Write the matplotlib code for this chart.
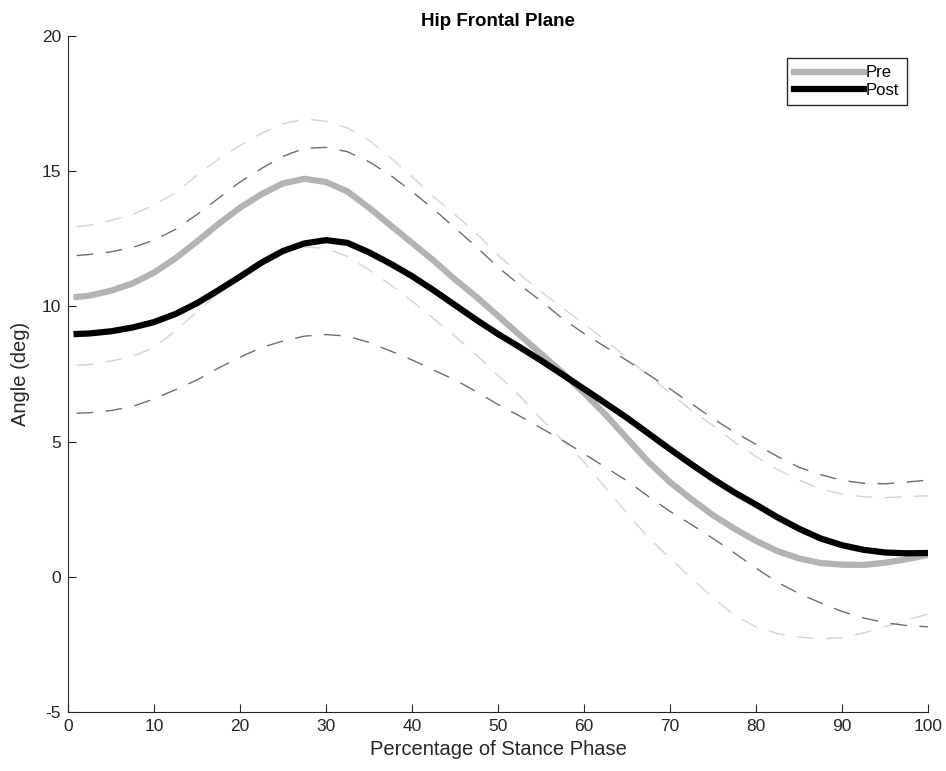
import numpy as np
import matplotlib
matplotlib.use("Agg")
import matplotlib.pyplot as plt

plt.rcParams['font.family'] = ['Liberation Sans', 'DejaVu Sans']
plt.rcParams['lines.scale_dashes'] = False
plt.rcParams['axes.unicode_minus'] = False

# Percentage of stance phase
pct = [1, 2.5, 5, 7.5, 10, 12.5, 15, 17.5, 20, 22.5, 25, 27.5, 30, 32.5, 35, 37.5, 40,
       42.5, 45, 47.5, 50, 52.5, 55, 57.5, 60, 62.5, 65, 67.5, 70, 72.5, 75, 77.5, 80,
       82.5, 85, 87.5, 90, 92.5, 95, 97.5, 100]

# Pre: mean and +/- SD bounds
pre_mean = [10.35, 10.4, 10.58, 10.85, 11.25, 11.78, 12.4, 13.05, 13.65, 14.15, 14.55,
            14.72, 14.6, 14.25, 13.65, 13.0, 12.35, 11.7, 11.0, 10.35, 9.65, 8.95, 8.25,
            7.55, 6.8, 6.0, 5.12, 4.25, 3.5, 2.87, 2.28, 1.78, 1.33, 0.95, 0.68, 0.51,
            0.45, 0.44, 0.52, 0.65, 0.81]
pre_upper = [12.95, 13.0, 13.18, 13.4, 13.75, 14.2, 14.85, 15.45, 15.95, 16.4, 16.75,
             16.93, 16.85, 16.6, 16.15, 15.5, 14.8, 14.05, 13.4, 12.7, 11.9, 11.2, 10.55,
             9.95, 9.35, 8.75, 8.1, 7.45, 6.8, 6.15, 5.6, 4.98, 4.45, 3.97, 3.58, 3.25,
             3.06, 2.96, 2.93, 2.96, 3.0]
pre_lower = [7.82, 7.85, 7.98, 8.15, 8.48, 9.1, 9.8, 10.5, 11.1, 11.62, 12.0, 12.2, 12.15,
             11.85, 11.35, 10.8, 10.2, 9.55, 8.9, 8.2, 7.45, 6.7, 5.85, 5.05, 4.25, 3.3,
             2.35, 1.45, 0.68, -0.05, -0.78, -1.42, -1.85, -2.1, -2.23, -2.3, -2.25,
             -2.08, -1.85, -1.6, -1.38]

# Post: mean and +/- SD bounds
post_mean = [8.98, 9.0, 9.08, 9.22, 9.42, 9.72, 10.12, 10.6, 11.1, 11.62, 12.05, 12.33,
             12.45, 12.35, 12.0, 11.58, 11.12, 10.6, 10.05, 9.5, 8.98, 8.5, 8.0, 7.48, 6.95,
             6.42, 5.88, 5.3, 4.72, 4.16, 3.62, 3.12, 2.67, 2.2, 1.78, 1.42, 1.17, 1.0,
             0.9, 0.87, 0.88]
post_upper = [11.88, 11.92, 12.02, 12.18, 12.45, 12.85, 13.4, 14.0, 14.6, 15.1, 15.55,
              15.85, 15.88, 15.72, 15.35, 14.85, 14.25, 13.6, 12.9, 12.2, 11.45, 10.8,
              10.2, 9.55, 9.0, 8.5, 8.0, 7.48, 6.95, 6.4, 5.85, 5.35, 4.9, 4.45, 4.05,
              3.78, 3.57, 3.46, 3.44, 3.5, 3.58]
post_lower = [6.05, 6.07, 6.15, 6.3, 6.58, 6.92, 7.28, 7.72, 8.12, 8.48, 8.72, 8.9, 8.96,
              8.9, 8.67, 8.35, 8.02, 7.65, 7.28, 6.85, 6.37, 5.95, 5.5, 5.05, 4.55, 4.05,
              3.55, 2.97, 2.42, 1.93, 1.42, 0.88, 0.32, -0.2, -0.62, -0.96, -1.28, -1.52,
              -1.7, -1.8, -1.85]

fig = plt.figure(figsize=(9.46, 7.71), dpi=100)
ax = fig.add_axes([0.0719, 0.0765, 0.909, 0.8768])

dash = (12, 9)
ax.plot(pct, pre_upper, color='#d4d4d4', lw=1.0, dashes=dash)
ax.plot(pct, pre_lower, color='#d4d4d4', lw=1.0, dashes=dash)
ax.plot(pct, post_upper, color='#6e6e6e', lw=1.0, dashes=dash)
ax.plot(pct, post_lower, color='#6e6e6e', lw=1.0, dashes=dash)
ax.plot(pct, pre_mean, color='#b3b3b3', lw=4.5, label='Pre', solid_joinstyle='round')
ax.plot(pct, post_mean, color='black', lw=4.5, label='Post', solid_joinstyle='round')

ax.set_xlim(0, 100)
ax.set_ylim(-5, 20)
ax.set_xticks(np.arange(0, 101, 10))
ax.set_yticks(np.arange(-5, 21, 5))
ax.spines['top'].set_visible(False)
ax.spines['right'].set_visible(False)
for s in ['left', 'bottom']:
    ax.spines[s].set_color('#262626')
ax.tick_params(direction='in', length=6, labelsize=12.5, colors='#262626', pad=5)

ax.set_xlabel('Percentage of Stance Phase', fontsize=14.5, color='#262626', labelpad=4)
ax.set_ylabel('Angle (deg)', fontsize=14.5, color='#262626', labelpad=8)
ax.set_title('Hip Frontal Plane', fontsize=13.5, fontweight='bold', pad=7)

leg = ax.legend(loc='upper right', bbox_to_anchor=(0.9756, 0.9675), fontsize=12,
                handlelength=4.2, handletextpad=0.1, borderpad=0.45, labelspacing=0.15,
                fancybox=False, framealpha=1, borderaxespad=0)
leg.get_frame().set_edgecolor('#262626')
leg.get_frame().set_linewidth(1.0)

fig.savefig('out.png', dpi=100)
